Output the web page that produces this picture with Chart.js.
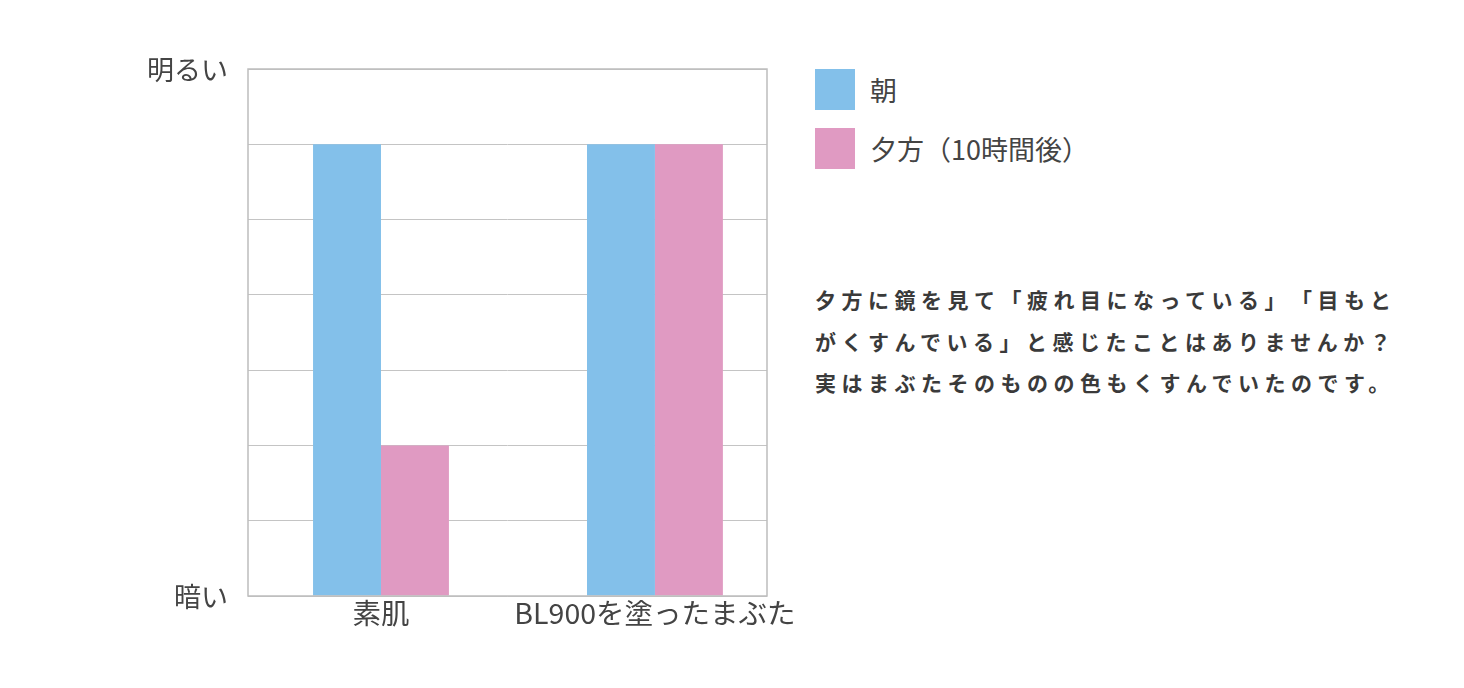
<!DOCTYPE html>
<html>
<head>
<meta charset="utf-8">
<script src="https://cdn.jsdelivr.net/npm/chart.js@4"></script>
<style>
  body { margin: 0; background: #fff; font-family: "Noto Sans CJK JP", sans-serif; color: #444; }
  #wrap { position: relative; width: 1464px; height: 688px; }
  #chartbox { position: absolute; left: 0; top: 0; width: 810px; height: 688px; }
  #legend { position: absolute; left: 815px; top: 69px; }
  .item { display: flex; align-items: center; height: 41px; margin-bottom: 18px; font-size: 27px; }
  .swatch { width: 40px; height: 41px; margin-right: 15px; }
  #note { position: absolute; left: 815px; top: 279px; font-size: 21px; font-weight: bold;
          letter-spacing: 5.5px; line-height: 41.5px; color: #3a3a3a; white-space: nowrap;
          text-spacing-trim: space-all; }
</style>
</head>
<body>
<div id="wrap">
  <div id="chartbox"><canvas id="eyechart"></canvas></div>
  <div id="legend"></div>
  <div id="note">夕方に鏡を見て「疲れ目になっている」「目もと<br>がくすんでいる」と感じたことはありませんか？<br>実はまぶたそのものの色もくすんでいたのです。</div>
</div>
<script>
const categories = ["素肌", "BL900を塗ったまぶた"];
const seriesNames = ["朝", "夕方（10時間後）"];
const morning = [6, 6];
const evening = [2, 6];
const yTickLabels = { 0: "暗い", 7: "明るい" };
const seriesColors = ["#83c0ea", "#e09ac2"];

const eyeChart = document.getElementById("eyechart");

// legend (html, built from the series arrays)
const legendBox = document.getElementById("legend");
seriesNames.forEach(function(name, i) {
    const row = document.createElement("div");
    row.className = "item";
    row.innerHTML = '<span class="swatch" style="background:' + seriesColors[i] + '"></span>' + name;
    legendBox.appendChild(row);
});

// frame round the plot area
const frame = {
    id: "frame",
    afterDraw(chart) {
        const a = chart.chartArea;
        const ctx = chart.ctx;
        ctx.save();
        ctx.strokeStyle = "#bdbdbd";
        ctx.lineWidth = 1.5;
        ctx.strokeRect(a.left, a.top, a.right - a.left, a.bottom - a.top);
        ctx.restore();
    }
};

new Chart(eyeChart, {
    type: "bar",
    data: {
        datasets: [
            {
                label: seriesNames[0],
                data: morning.map((v, i) => ({ x: i + 1, y: v })),
                backgroundColor: seriesColors[0],
            },
            {
                label: seriesNames[1],
                data: evening.map((v, i) => ({ x: i + 1, y: v })),
                backgroundColor: seriesColors[1],
            },
        ],
    },
    options: {
        responsive: true,
        maintainAspectRatio: false,
        animation: false,
        categoryPercentage: 0.496,
        barPercentage: 1,
        layout: { padding: { top: 69, right: 43, bottom: 0, left: 0 } },
        plugins: {
            legend: { display: false },
            tooltip: { enabled: false }
        },
        scales: {
            x: {
                type: "linear",
                offset: false,
                min: 0.5146,
                max: 2.409,
                afterBuildTicks: function(scale) {
                    scale.ticks = categories.map((c, i) => ({ value: i + 1 }));
                },
                afterFit: function(scale) { scale.height = 92; },
                grid: { display: false, drawTicks: false },
                border: { display: false },
                ticks: {
                    autoSkip: false,
                    maxRotation: 0,
                    padding: 0,
                    color: "#444",
                    font: { family: "Noto Sans CJK JP", size: 28.5 },
                    callback: function(value) { return categories[value - 1]; }
                }
            },
            y: {
                min: 0,
                max: 7,
                afterFit: function(scale) { scale.width = 248; },
                grid: { color: "#c4c4c4", lineWidth: 1, drawTicks: false },
                border: { display: false },
                ticks: {
                    stepSize: 1,
                    padding: 20,
                    labelOffset: 1,
                    color: "#444",
                    font: { family: "Noto Sans CJK JP", size: 27 },
                    callback: function(value) { return yTickLabels[value] || ""; }
                }
            }
        }
    },
    plugins: [frame]
});
</script>
</body>
</html>
